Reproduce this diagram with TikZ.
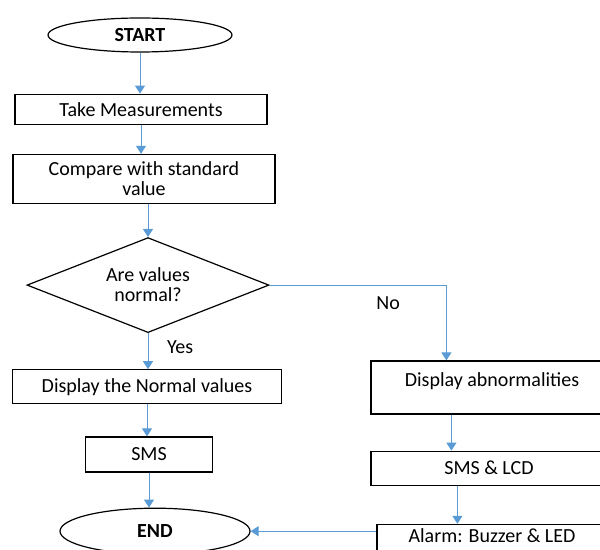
\documentclass[tikz,border=0pt]{standalone}
\usepackage{fontspec}
\setmainfont{Carlito}
\usetikzlibrary{shapes,arrows.meta}
\usetikzlibrary{positioning}
\definecolor{linkblue}{RGB}{91,155,213}

\begin{document}
\begin{tikzpicture}[x=0.5pt, y=-0.5pt, node distance=16.5pt,
  >={Triangle[length=4pt,width=5pt]},
  font=\fontsize{10}{10}\selectfont,
  box/.style={draw, line width=0.6pt, rectangle, inner xsep=2pt, inner ysep=0pt, minimum height=17pt},
  term/.style={draw, line width=0.6pt, ellipse, inner sep=0pt, font=\fontsize{10}{10}\selectfont\bfseries},
  decision/.style={draw, line width=0.6pt, diamond, aspect=2.5, inner sep=0pt, minimum width=121pt, minimum height=47.5pt, align=center},
  link/.style={->, draw=linkblue, line width=0.5pt}]
  \useasboundingbox (0,0) rectangle (600,550);
  \clip (0,0) rectangle (600,550);

  \node[term, minimum width=92pt, minimum height=17pt] (start) at (140,35) {START};
  \node[box, minimum width=126pt, minimum height=15pt] (tm) [below=20.5pt of start, xshift=0.5pt] {Take Measurements};
  \node[box, minimum width=131pt, minimum height=24.5pt, align=center] (cmp) [below=14.5pt of tm, xshift=1.5pt] {Compare with standard\\value};
  \node[decision] (dec) [below=of cmp, xshift=2pt] {Are values\\normal?};
  \node[box, minimum width=134.5pt] (nrm) [below=18pt of dec, xshift=-0.5pt] {Display the Normal values};
  \node[box, minimum width=63.5pt, minimum height=17.5pt] (sms) [below=16pt of nrm, xshift=1pt] {SMS};
  \node[term, minimum width=95pt, minimum height=23pt] (stop) [below=17.5pt of sms, xshift=3pt] {END};

  \node[box, minimum width=121pt, text height=13pt, text depth=13.5pt] (abn) at (492,387.5) {Display abnormalities};
  \node[box, minimum width=118pt] (smslcd) [below=18pt of abn, xshift=-1.5pt] {SMS \& LCD};
  \node[box, minimum width=115pt, text height=9pt, text depth=8pt] (alarm) [below=19pt of smslcd, xshift=1.5pt] {Alarm: Buzzer \& LED};
  \coordinate (noTurn) at ([xshift=38pt]abn.north west);

  \draw[link] (start) -- (start |- tm.north);
  \draw[link] (tm) -- (tm |- cmp.north);
  \draw[link] (dec.north |- cmp.south) -- (dec.north);
  \draw[link] (dec) -- node[right=6pt, pos=0.4] {Yes} (dec |- nrm.north);
  \draw[link] (nrm) -- (nrm |- sms.north);
  \draw[link] (sms) -- (sms |- stop.north);

  \draw[link] (dec.east) -| node[below=2pt, pos=0.335] {No} (noTurn);
  \draw[link] ([xshift=40.5pt]abn.south west) -- ([xshift=40.5pt]smslcd.north west);
  \draw[link] ([xshift=43.5pt]smslcd.south west) -- ([xshift=40.5pt]alarm.north west);
  \draw[link] (alarm.west |- stop.east) -- (stop.east);
\end{tikzpicture}
\end{document}
